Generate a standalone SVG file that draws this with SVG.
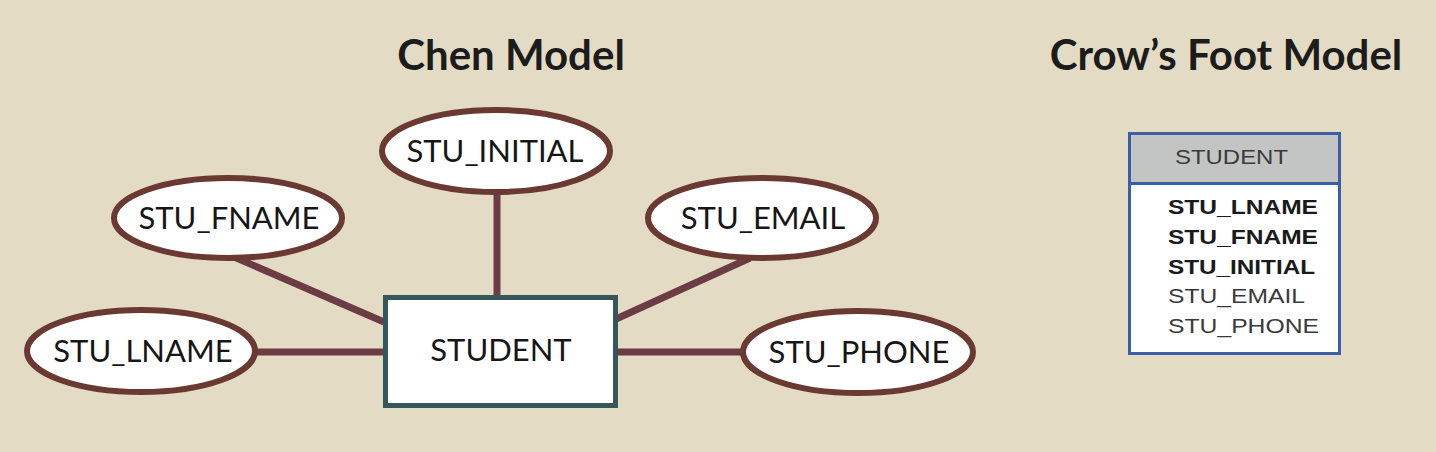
<svg xmlns="http://www.w3.org/2000/svg" width="1436" height="452" viewBox="0 0 1436 452">
<style>
.title{font-family:Lato,"Open Sans","Liberation Sans",sans-serif;font-weight:bold;font-size:42px;fill:#1c1c1c;text-anchor:middle}
.attr ellipse{fill:#fff;stroke:#6a3a32;stroke-width:6}
.lbl{font-family:Lato,"Open Sans","Liberation Sans",sans-serif;font-size:31px;fill:#161616;text-anchor:middle}
.conn line{stroke:#6c3c44;stroke-width:7}
.cf{font-family:"Liberation Sans",Arial,sans-serif;font-size:21px;fill:#2a2a2a}
.b{font-weight:bold;fill:#1a1a1a}
.n{fill:#3a3a3a}
</style>
<rect width="1436" height="452" fill="#e4dbc4"/>
<text class="title" x="511" y="70">Chen Model</text>
<text class="title" x="1226" y="70">Crow’s Foot Model</text>
<g id="connectors" class="conn">
<line x1="497" y1="192" x2="497" y2="297"/>
<line x1="234" y1="257" x2="384" y2="322"/>
<line x1="750" y1="258" x2="616" y2="319"/>
<line x1="256" y1="352" x2="384" y2="352"/>
<line x1="616" y1="352" x2="743" y2="352"/>
</g>
<g id="student">
<rect x="385.5" y="297.5" width="230" height="108" fill="#fff" stroke="#36575a" stroke-width="5"/>
<text class="lbl" x="501" y="361">STUDENT</text>
</g>
<g id="stu_initial" class="attr">
<ellipse cx="496" cy="151" rx="114" ry="41"/>
<text class="lbl" x="495" y="162">STU_INITIAL</text>
</g>
<g id="stu_fname" class="attr">
<ellipse cx="228" cy="218" rx="114" ry="40"/>
<text class="lbl" x="229" y="229">STU_FNAME</text>
</g>
<g id="stu_lname" class="attr">
<ellipse cx="141" cy="351" rx="114" ry="41"/>
<text class="lbl" x="143" y="362">STU_LNAME</text>
</g>
<g id="stu_email" class="attr">
<ellipse cx="762" cy="218" rx="114" ry="40"/>
<text class="lbl" x="763" y="229">STU_EMAIL</text>
</g>
<g id="stu_phone" class="attr">
<ellipse cx="858" cy="352" rx="115" ry="41"/>
<text class="lbl" x="859" y="363">STU_PHONE</text>
</g>
<g id="crowsfoot_student">
<rect x="1129.5" y="133.5" width="210" height="220" fill="#fff" stroke="#3a5fa8" stroke-width="3"/>
<rect x="1129.5" y="133.5" width="210" height="50" fill="#c3c5c4" stroke="#3a5fa8" stroke-width="3"/>
<text class="cf n" x="1175" y="164" textLength="113" lengthAdjust="spacingAndGlyphs">STUDENT</text>
<text class="cf b" x="1168" y="214" textLength="150" lengthAdjust="spacingAndGlyphs">STU_LNAME</text>
<text class="cf b" x="1168" y="244" textLength="150" lengthAdjust="spacingAndGlyphs">STU_FNAME</text>
<text class="cf b" x="1168" y="274" textLength="147" lengthAdjust="spacingAndGlyphs">STU_INITIAL</text>
<text class="cf n" x="1168" y="303" textLength="137" lengthAdjust="spacingAndGlyphs">STU_EMAIL</text>
<text class="cf n" x="1168" y="333" textLength="151" lengthAdjust="spacingAndGlyphs">STU_PHONE</text>
</g>
</svg>
